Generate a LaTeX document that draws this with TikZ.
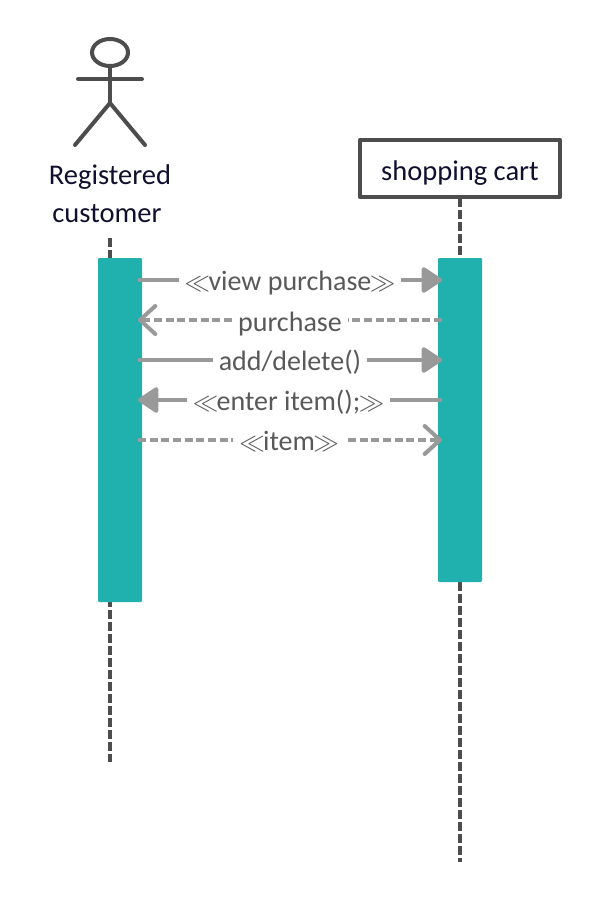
\documentclass[tikz,border=0pt]{standalone}
\usepackage{fontspec}
\usepackage{amssymb}
\setmainfont{Carlito}
\usetikzlibrary{arrows.meta}
\definecolor{barteal}{HTML}{20B0AE}
\definecolor{msggray}{HTML}{999999}
\definecolor{linegray}{HTML}{4D4D4D}
\definecolor{labelgray}{HTML}{595959}
\definecolor{namenavy}{HTML}{10102E}
\newcommand{\openq}{\scalebox{0.92}{$\ll$}\kern-1.2pt}
\newcommand{\closeq}{\kern-1.2pt\scalebox{0.92}{$\gg$}}
\tikzset{
  lifeline/.style={draw=linegray,line width=3pt,dash pattern=on 6.6pt off 2.4pt},
  actorline/.style={draw=linegray,line width=3pt,line cap=round},
  activation/.style={fill=barteal,rounded corners=0.8pt},
  callmsg/.style={draw=msggray,line width=3pt,-{Triangle[length=16.5pt,width=21pt,round]}},
  returnmsg/.style={draw=msggray,line width=3pt,dash pattern=on 6pt off 2.75pt,-{Straight Barb[length=11.5pt,width=21pt,round]}},
  msglabel/.style={fill=white,text=labelgray,font=\fontsize{21}{24}\selectfont,inner xsep=4.5pt,inner ysep=1pt},
}
\begin{document}
\begin{tikzpicture}[x=0.75pt,y=0.75pt,yscale=-1,xscale=1]
\useasboundingbox (0,0) rectangle (600,900);
% lifelines
\draw[lifeline] (110,238) -- (110,762);
\draw[lifeline] (460,198) -- (460,862);
% actor
\draw[actorline] (110,52.5) ellipse (18 and 13.5);
\draw[actorline] (110,66) -- (110,103);
\draw[actorline] (78,79) -- (142,79);
\draw[actorline] (75,145) -- (110,103) -- (145,145);
\node (customer) [text=namenavy,align=center,font=\fontsize{21.4}{28.5}\selectfont] at (110,194) {Registered\\customer\kern4.5pt};
% cart box
\node (cart) [draw=linegray,line width=3.4pt,line join=round,fill=white,text=namenavy,minimum width=150pt,minimum height=42.5pt,font=\fontsize{21.4}{24}\selectfont] at (460,168.5) {\raisebox{-9.2pt}[0pt][0pt]{shopping cart}};
% activation bars
\fill[activation] (98,258) rectangle (142,602);
\fill[activation] (438,258) rectangle (482,582);
% message ends
\coordinate (cl1) at (138,280); \coordinate (cr1) at (442,280);
\coordinate (cl2) at (138,320); \coordinate (cr2) at (442,320);
\coordinate (cl3) at (138,360); \coordinate (cr3) at (442,360);
\coordinate (cl4) at (138,400); \coordinate (cr4) at (442,400);
\coordinate (cl5) at (138,440); \coordinate (cr5) at (442,440);
\draw[callmsg] (cl1) -- (cr1);
\draw[returnmsg] (cr2) -- (cl2);
\draw[callmsg] (cl3) -- (cr3);
\draw[callmsg] (cr4) -- (cl4);
\draw[returnmsg] (cl5) -- (cr5);
\node (view) [msglabel] at (290,283.5) {\openq view purchase\closeq};
\node (purchase) [msglabel] at (290,324.5) {purchase};
\node (adddelete) [msglabel] at (290,362.5) {add/delete()};
\node (enter) [msglabel] at (288.5,402.5) {\openq enter item();\closeq};
\node (item) [msglabel] at (289,441.5) {\openq item\closeq};
\end{tikzpicture}
\end{document}
